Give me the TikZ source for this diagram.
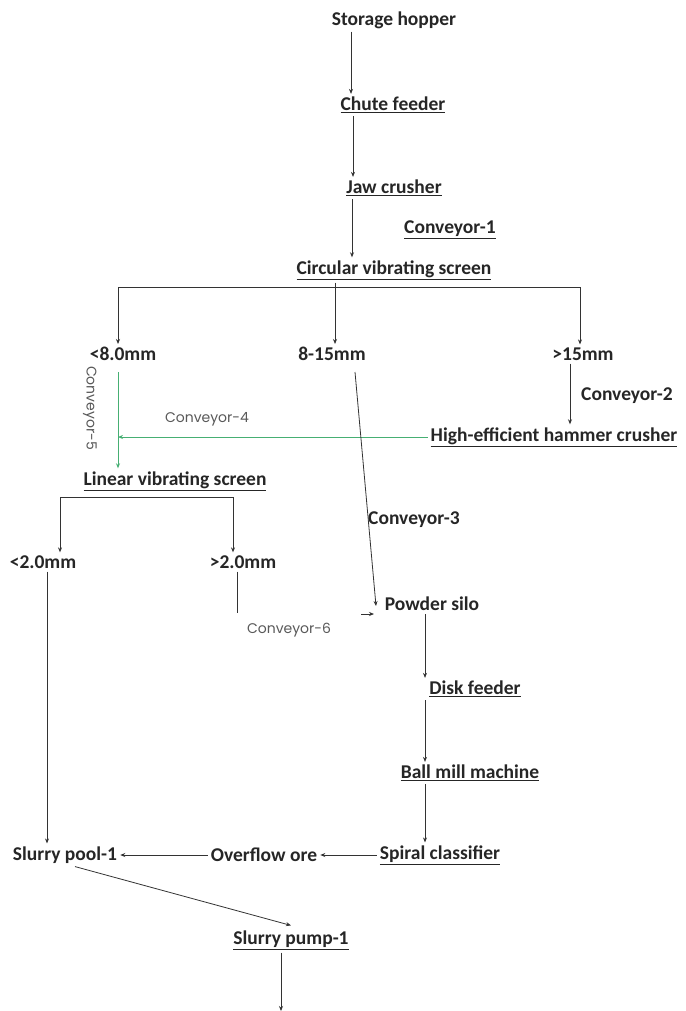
\documentclass[tikz,border=0pt]{standalone}
\usepackage{fontspec}
\setmainfont{Carlito}
\newfontfamily\convfont{Poppins}
\usetikzlibrary{arrows.meta}
\definecolor{greenbelt}{RGB}{70,175,115}

\begin{document}
\begin{tikzpicture}[x=1pt,y=-1pt,
    stage/.style={font=\bfseries\fontsize{19.5}{21}\selectfont,text=black!85,inner sep=3pt},
    conv/.style={font=\convfont\fontsize{14}{16}\selectfont,text=black!65,inner sep=1pt},
    line/.style={draw=black!80,line width=0.8pt},
    flow/.style={line,-{Stealth[length=5pt,width=4pt]}},
    belt/.style={draw=greenbelt,line width=0.9pt,-{Stealth[length=5pt,width=4pt]}}]
  \fill[white] (0,0) rectangle (685,1011);
  \useasboundingbox (0,0) rectangle (685,1011);

  % crushing line
  \node[stage] (hopper) at (394,20) {Storage hopper};
  \node[stage] (chute) at (393,105) {\underline{Chute feeder}};
  \node[stage] (jaw) at (394,188) {\underline{Jaw crusher}};
  \node[stage] (conv1) at (450,230) {\underline{Conveyor-1}};
  \node[stage] (cvs) at (394,270) {\underline{Circular vibrating screen}};
  \node[stage] (lt8) at (123,354) {<8.0mm};
  \node[stage] (mid) at (332,354) {8-15mm};
  \node[stage] (gt15) at (583,354) {>15mm};
  \node[stage] (conv2) at (627,396) {Conveyor-2};
  \node[stage] (hec) at (554,437) {\underline{High-efficient hammer crusher}};
  \node[conv] (conv4) at (207,419) {Conveyor-4};
  \node[conv,rotate=-90] (conv5) at (90,408) {Conveyor-5};
  \node[stage] (lvs) at (175,481) {\underline{Linear vibrating screen}};
  \node[stage] (lt2) at (43,562) {<2.0mm};
  \node[stage] (gt2) at (243,562) {>2.0mm};
  \node[conv] (conv6) at (289,630) {Conveyor-6};
  \node[stage] (conv3) at (414,520) {Conveyor-3};

  % grinding line
  \node[stage] (silo) at (432,604) {Powder silo};
  \node[stage] (disk) at (475,689) {\underline{Disk feeder}};
  \node[stage] (ball) at (470,773) {\underline{Ball mill machine}};
  \node[stage] (spiral) at (440,855) {\underline{Spiral classifier}};
  \node[stage] (over) at (264,855) {Overflow ore};
  \node[stage] (pool) at (65,855) {Slurry pool-1};
  \node[stage] (pump) at (291,940) {\underline{Slurry pump-1}};

  \coordinate (busL) at (118,287);
  \coordinate (busR) at (580,287);
  \coordinate (bus2L) at (60,497);
  \coordinate (bus2R) at (233,497);
  \coordinate (c5top) at (118,372);
  \coordinate (c3top) at (355,372);
  \coordinate (c3end) at (376,606);
  \coordinate (c6end) at (237,613);
  \coordinate (siloin) at (361,614);
  \coordinate (siloend) at (374,614);
  \coordinate (out) at (281,1011);

  \draw[flow] (hopper.south -| 351,0) -- (chute.north -| 351,0);
  \draw[flow] (chute.south -| 353,0) -- (jaw.north -| 353,0);
  \draw[flow] (jaw.south -| 352,0) -- (cvs.north -| 352,0);

  \draw[line] (busL) -- (busR);
  \draw[line] (cvs.south -| 335,0) -- (busL -| 335,0);
  \draw[flow] (busL) -- (busL |- lt8.north);
  \draw[flow] (busL -| 335,0) -- (mid.north -| 335,0);
  \draw[flow] (busR) -- (busR |- gt15.north);

  \draw[flow] (gt15.south -| 570,0) -- (hec.north -| 570,0);
  \draw[belt] (hec.west) -- (hec.west -| c5top);
  \draw[belt] (c5top) -- (c5top |- lvs.north);

  \draw[line] (bus2L) -- (bus2R);
  \draw[flow] (bus2L) -- (bus2L |- lt2.north);
  \draw[flow] (bus2R) -- (bus2R |- gt2.north);
  \draw[line] (gt2.south -| c6end) -- (c6end);
  \draw[flow] (siloin) -- (siloend);

  \draw[flow] (c3top) -- (c3end);

  \draw[flow] (silo.south -| 425,0) -- (disk.north -| 425,0);
  \draw[flow] (disk.south -| 425,0) -- (ball.north -| 425,0);
  \draw[flow] (ball.south -| 425,0) -- (spiral.north -| 425,0);
  \draw[flow] (spiral.west) -- (over.east);
  \draw[flow] (over.west) -- (pool.east);
  \draw[flow] (lt2.south -| 47,0) -- (pool.north -| 47,0);
  \draw[flow] ([xshift=10pt]pool.south) -- ([yshift=2pt]pump.north);
  \draw[flow] (pump.south -| out) -- (out);
\end{tikzpicture}
\end{document}
